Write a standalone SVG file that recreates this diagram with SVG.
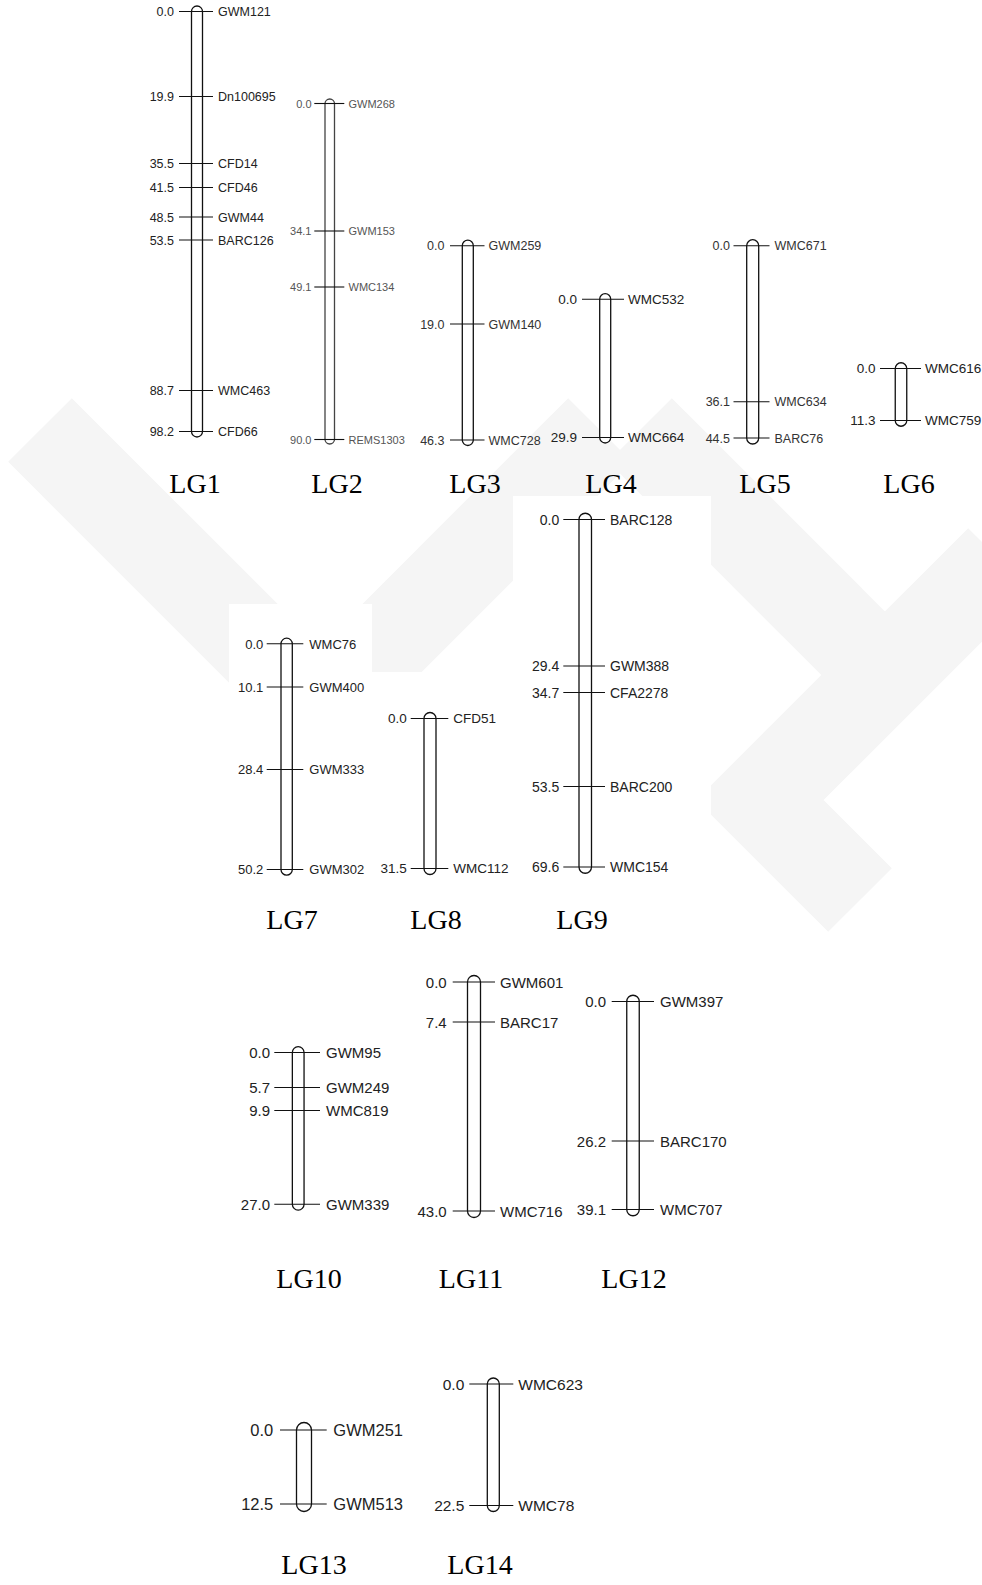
<svg xmlns="http://www.w3.org/2000/svg" width="982" height="1585" viewBox="0 0 982 1585">
<style>
.bar{fill:#fff;stroke:#111;stroke-width:1.3}
.tk{stroke:#111;stroke-width:1.1}
.n{font-family:"Liberation Sans",Arial,sans-serif;text-anchor:end}
.m{font-family:"Liberation Sans",Arial,sans-serif;text-anchor:start}
.lg{font-family:"Liberation Serif","Times New Roman",serif;font-size:28px;text-anchor:middle;fill:#000}
.wm{fill:none;stroke:#f5f5f5;stroke-width:90}
</style>
<rect width="982" height="1585" fill="#fff"/>
<g id="watermark">
<path class="wm" d="M 40 430 L 320 710 L 600 430"/>
<path class="wm" d="M 640 430 L 900 690"/>
<path class="wm" d="M 1000 560 L 760 800 L 860 900"/>
<rect x="229" y="604" width="143" height="278" fill="#fff"/>
<rect x="372" y="672" width="146" height="210" fill="#fff"/>
<rect x="513" y="496" width="198" height="386" fill="#fff"/>
</g>
<g id="LG1" fill="#222" font-size="12.5">
<rect class="bar" x="191.5" y="6" width="11" height="431" rx="5.5"/>
<line class="tk" x1="179" y1="11.5" x2="213" y2="11.5"/>
<line class="tk" x1="179" y1="96.5" x2="213" y2="96.5"/>
<line class="tk" x1="179" y1="163.5" x2="213" y2="163.5"/>
<line class="tk" x1="179" y1="187.5" x2="213" y2="187.5"/>
<line class="tk" x1="179" y1="217" x2="213" y2="217"/>
<line class="tk" x1="179" y1="240" x2="213" y2="240"/>
<line class="tk" x1="179" y1="390.5" x2="213" y2="390.5"/>
<line class="tk" x1="179" y1="431.5" x2="213" y2="431.5"/>
<text class="n" x="174" y="16">0.0</text><text class="m" x="218" y="16">GWM121</text>
<text class="n" x="174" y="101">19.9</text><text class="m" x="218" y="101">Dn100695</text>
<text class="n" x="174" y="168">35.5</text><text class="m" x="218" y="168">CFD14</text>
<text class="n" x="174" y="192">41.5</text><text class="m" x="218" y="192">CFD46</text>
<text class="n" x="174" y="221.5">48.5</text><text class="m" x="218" y="221.5">GWM44</text>
<text class="n" x="174" y="244.5">53.5</text><text class="m" x="218" y="244.5">BARC126</text>
<text class="n" x="174" y="395">88.7</text><text class="m" x="218" y="395">WMC463</text>
<text class="n" x="174" y="436">98.2</text><text class="m" x="218" y="436">CFD66</text>
<text class="lg" x="195" y="493">LG1</text>
</g>
<g id="LG2" fill="#555" font-size="11">
<rect class="bar" x="325" y="99" width="9.5" height="345" rx="4.75" style="stroke:#444"/>
<line class="tk" x1="314.3" y1="103.5" x2="344.3" y2="103.5"/>
<line class="tk" x1="314.3" y1="231" x2="344.3" y2="231"/>
<line class="tk" x1="314.3" y1="287" x2="344.3" y2="287"/>
<line class="tk" x1="314.3" y1="439.5" x2="344.3" y2="439.5"/>
<text class="n" x="311.5" y="107.5">0.0</text><text class="m" x="348.5" y="107.5">GWM268</text>
<text class="n" x="311.5" y="235">34.1</text><text class="m" x="348.5" y="235">GWM153</text>
<text class="n" x="311.5" y="291">49.1</text><text class="m" x="348.5" y="291">WMC134</text>
<text class="n" x="311.5" y="443.5">90.0</text><text class="m" x="348.5" y="443.5">REMS1303</text>
<text class="lg" x="337" y="493">LG2</text>
</g>
<g id="LG3" fill="#333" font-size="12.5">
<rect class="bar" x="462.3" y="240.2" width="11" height="205.3" rx="5.5"/>
<line class="tk" x1="450" y1="245.7" x2="484.5" y2="245.7"/>
<line class="tk" x1="450" y1="324" x2="484.5" y2="324"/>
<line class="tk" x1="450" y1="440" x2="484.5" y2="440"/>
<text class="n" x="444.5" y="250.2">0.0</text><text class="m" x="488.5" y="250.2">GWM259</text>
<text class="n" x="444.5" y="328.5">19.0</text><text class="m" x="488.5" y="328.5">GWM140</text>
<text class="n" x="444.5" y="444.5">46.3</text><text class="m" x="488.5" y="444.5">WMC728</text>
<text class="lg" x="475" y="493">LG3</text>
</g>
<g id="LG4" fill="#222" font-size="13.5">
<rect class="bar" x="599.7" y="293.7" width="11" height="149.3" rx="5.5"/>
<line class="tk" x1="582" y1="299.2" x2="624" y2="299.2"/>
<line class="tk" x1="582" y1="437.5" x2="624" y2="437.5"/>
<text class="n" x="577" y="304">0.0</text><text class="m" x="628" y="304">WMC532</text>
<text class="n" x="577" y="442.3">29.9</text><text class="m" x="628" y="442.3">WMC664</text>
<text class="lg" x="611" y="493">LG4</text>
</g>
<g id="LG5" fill="#333" font-size="12.5">
<rect class="bar" x="746.7" y="239.7" width="12" height="204.3" rx="6"/>
<line class="tk" x1="733.5" y1="245.7" x2="769.5" y2="245.7"/>
<line class="tk" x1="733.5" y1="401.7" x2="769.5" y2="401.7"/>
<line class="tk" x1="733.5" y1="438" x2="769.5" y2="438"/>
<text class="n" x="730" y="250.2">0.0</text><text class="m" x="774.5" y="250.2">WMC671</text>
<text class="n" x="730" y="406.2">36.1</text><text class="m" x="774.5" y="406.2">WMC634</text>
<text class="n" x="730" y="442.5">44.5</text><text class="m" x="774.5" y="442.5">BARC76</text>
<text class="lg" x="765" y="493">LG5</text>
</g>
<g id="LG6" fill="#222" font-size="13.5">
<rect class="bar" x="895.25" y="362.75" width="11.5" height="63.5" rx="5.75"/>
<line class="tk" x1="880" y1="368.5" x2="921" y2="368.5"/>
<line class="tk" x1="880" y1="420.5" x2="921" y2="420.5"/>
<text class="n" x="875.5" y="373.3">0.0</text><text class="m" x="925" y="373.3">WMC616</text>
<text class="n" x="875.5" y="425.3">11.3</text><text class="m" x="925" y="425.3">WMC759</text>
<text class="lg" x="909" y="493">LG6</text>
</g>
<g id="LG7" fill="#222" font-size="13">
<rect class="bar" x="281" y="638.2" width="11.3" height="236.9" rx="5.65"/>
<line class="tk" x1="266.7" y1="643.8" x2="303.3" y2="643.8"/>
<line class="tk" x1="266.7" y1="687" x2="303.3" y2="687"/>
<line class="tk" x1="266.7" y1="769.5" x2="303.3" y2="769.5"/>
<line class="tk" x1="266.7" y1="869.5" x2="303.3" y2="869.5"/>
<text class="n" x="263.3" y="648.5">0.0</text><text class="m" x="309.3" y="648.5">WMC76</text>
<text class="n" x="263.3" y="691.7">10.1</text><text class="m" x="309.3" y="691.7">GWM400</text>
<text class="n" x="263.3" y="774.2">28.4</text><text class="m" x="309.3" y="774.2">GWM333</text>
<text class="n" x="263.3" y="874.2">50.2</text><text class="m" x="309.3" y="874.2">GWM302</text>
<text class="lg" x="292" y="929">LG7</text>
</g>
<g id="LG8" fill="#222" font-size="13.5">
<rect class="bar" x="424" y="712.5" width="12" height="162" rx="6"/>
<line class="tk" x1="410.7" y1="718.5" x2="448.3" y2="718.5"/>
<line class="tk" x1="410.7" y1="868.5" x2="448.3" y2="868.5"/>
<text class="n" x="406.7" y="723.3">0.0</text><text class="m" x="453.3" y="723.3">CFD51</text>
<text class="n" x="406.7" y="873.3">31.5</text><text class="m" x="453.3" y="873.3">WMC112</text>
<text class="lg" x="436" y="929">LG8</text>
</g>
<g id="LG9" fill="#222" font-size="14">
<rect class="bar" x="579" y="513.25" width="12.5" height="360" rx="6.25"/>
<line class="tk" x1="563.3" y1="519.5" x2="605" y2="519.5"/>
<line class="tk" x1="563.3" y1="666" x2="605" y2="666"/>
<line class="tk" x1="563.3" y1="692.5" x2="605" y2="692.5"/>
<line class="tk" x1="563.3" y1="786.5" x2="605" y2="786.5"/>
<line class="tk" x1="563.3" y1="867" x2="605" y2="867"/>
<text class="n" x="559.3" y="524.5">0.0</text><text class="m" x="610" y="524.5">BARC128</text>
<text class="n" x="559.3" y="671">29.4</text><text class="m" x="610" y="671">GWM388</text>
<text class="n" x="559.3" y="697.5">34.7</text><text class="m" x="610" y="697.5">CFA2278</text>
<text class="n" x="559.3" y="791.5">53.5</text><text class="m" x="610" y="791.5">BARC200</text>
<text class="n" x="559.3" y="872">69.6</text><text class="m" x="610" y="872">WMC154</text>
<text class="lg" x="582" y="929">LG9</text>
</g>
<g id="LG10" fill="#222" font-size="15">
<rect class="bar" x="292.35" y="1046.65" width="11.7" height="163.4" rx="5.85"/>
<line class="tk" x1="274.3" y1="1052.5" x2="320" y2="1052.5"/>
<line class="tk" x1="274.3" y1="1087.5" x2="320" y2="1087.5"/>
<line class="tk" x1="274.3" y1="1110.5" x2="320" y2="1110.5"/>
<line class="tk" x1="274.3" y1="1204.2" x2="320" y2="1204.2"/>
<text class="n" x="270" y="1058">0.0</text><text class="m" x="326" y="1058">GWM95</text>
<text class="n" x="270" y="1093">5.7</text><text class="m" x="326" y="1093">GWM249</text>
<text class="n" x="270" y="1116">9.9</text><text class="m" x="326" y="1116">WMC819</text>
<text class="n" x="270" y="1209.7">27.0</text><text class="m" x="326" y="1209.7">GWM339</text>
<text class="lg" x="309" y="1288">LG10</text>
</g>
<g id="LG11" fill="#222" font-size="15">
<rect class="bar" x="467.5" y="975.5" width="13" height="242" rx="6.5"/>
<line class="tk" x1="452.7" y1="982" x2="495" y2="982"/>
<line class="tk" x1="452.7" y1="1022" x2="495" y2="1022"/>
<line class="tk" x1="452.7" y1="1211" x2="495" y2="1211"/>
<text class="n" x="446.7" y="987.5">0.0</text><text class="m" x="500" y="987.5">GWM601</text>
<text class="n" x="446.7" y="1027.5">7.4</text><text class="m" x="500" y="1027.5">BARC17</text>
<text class="n" x="446.7" y="1216.5">43.0</text><text class="m" x="500" y="1216.5">WMC716</text>
<text class="lg" x="471" y="1288">LG11</text>
</g>
<g id="LG12" fill="#222" font-size="15">
<rect class="bar" x="626.75" y="995.25" width="12.5" height="220.5" rx="6.25"/>
<line class="tk" x1="611.7" y1="1001.5" x2="654" y2="1001.5"/>
<line class="tk" x1="611.7" y1="1141" x2="654" y2="1141"/>
<line class="tk" x1="611.7" y1="1209.5" x2="654" y2="1209.5"/>
<text class="n" x="606" y="1007">0.0</text><text class="m" x="660" y="1007">GWM397</text>
<text class="n" x="606" y="1146.5">26.2</text><text class="m" x="660" y="1146.5">BARC170</text>
<text class="n" x="606" y="1215">39.1</text><text class="m" x="660" y="1215">WMC707</text>
<text class="lg" x="634" y="1288">LG12</text>
</g>
<g id="LG13" fill="#222" font-size="16.5">
<rect class="bar" x="296.5" y="1422.5" width="15" height="89" rx="7.5"/>
<line class="tk" x1="280" y1="1430" x2="326.7" y2="1430"/>
<line class="tk" x1="280" y1="1504" x2="326.7" y2="1504"/>
<text class="n" x="273.3" y="1436">0.0</text><text class="m" x="333.3" y="1436">GWM251</text>
<text class="n" x="273.3" y="1510">12.5</text><text class="m" x="333.3" y="1510">GWM513</text>
<text class="lg" x="314" y="1574">LG13</text>
</g>
<g id="LG14" fill="#222" font-size="15.5">
<rect class="bar" x="487.3" y="1378" width="12" height="133.5" rx="6"/>
<line class="tk" x1="469.3" y1="1384" x2="513.3" y2="1384"/>
<line class="tk" x1="469.3" y1="1505.5" x2="513.3" y2="1505.5"/>
<text class="n" x="464.3" y="1389.5">0.0</text><text class="m" x="518.3" y="1389.5">WMC623</text>
<text class="n" x="464.3" y="1511">22.5</text><text class="m" x="518.3" y="1511">WMC78</text>
<text class="lg" x="480" y="1574">LG14</text>
</g>
<g id="connectors"></g>
</svg>
